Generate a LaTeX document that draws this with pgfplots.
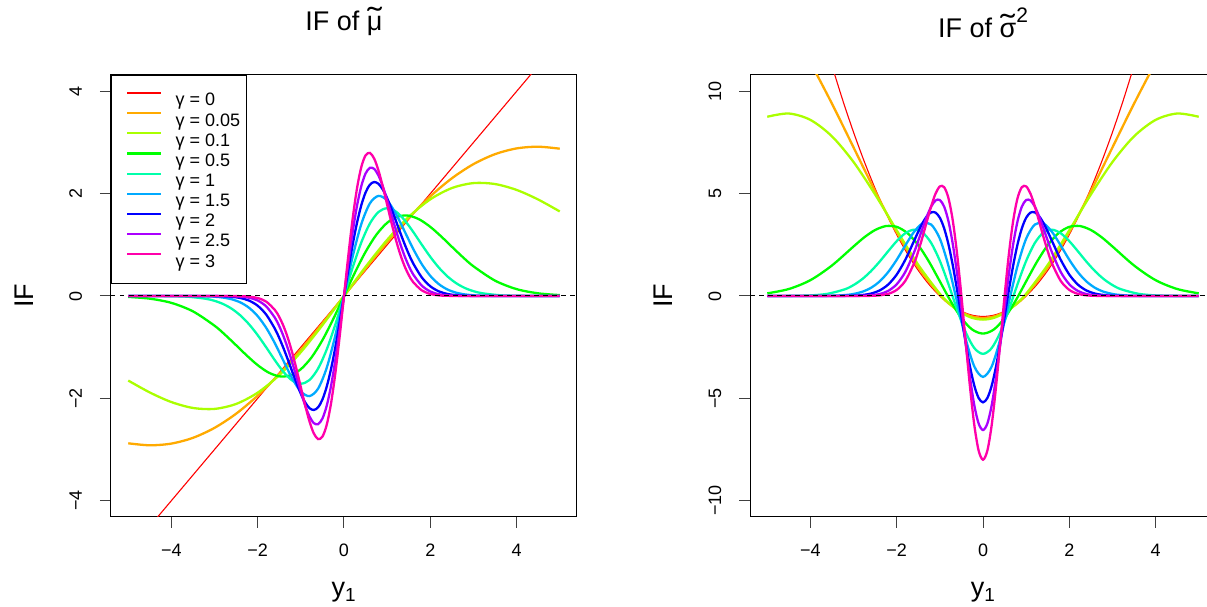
\documentclass[border=0pt]{standalone}
\usepackage{fontspec}
\setmainfont{Liberation Sans}
\usepackage{graphicx}
\usepackage{pgfplots}
\pgfplotsset{compat=1.18}
\definecolor{g0}{HTML}{FF0000}
\definecolor{g1}{HTML}{FFAA00}
\definecolor{g2}{HTML}{AAFF00}
\definecolor{g3}{HTML}{00FF00}
\definecolor{g4}{HTML}{00FFAA}
\definecolor{g5}{HTML}{00AAFF}
\definecolor{g6}{HTML}{0000FF}
\definecolor{g7}{HTML}{AA00FF}
\definecolor{g8}{HTML}{FF00AA}
\newcommand{\fs}[1]{\fontsize{#1}{#1}\selectfont}
\newcommand{\tld}[1]{\ooalign{#1\cr\hidewidth\raisebox{0.04em}{\scalebox{1.6}[1.15]{˜}}\hidewidth\cr}}
\pgfplotsset{
  ifaxis/.style={
    scale only axis, width=466pt, height=442pt,
    xmin=-5.4, xmax=5.4,
    axis line style={line width=1pt, black},
    tick style={line width=1pt, black!75},
    major tick length=11pt, tick align=outside,
    xtick pos=left, ytick pos=left,
    xtick={-4,-2,0,2,4}, xticklabels={−4,−2,0,2,4},
    tick label style={font=\fs{18}},
    xticklabel style={anchor=base}, xticklabel shift=28.5pt,
    yticklabel style={rotate=90, anchor=base}, yticklabel shift=18pt,
    xlabel={y\textsubscript{1}},
    xlabel style={at={(axis description cs:0.5,0)}, anchor=base, yshift=-80pt, font=\fs{27}},
    ylabel={IF},
    ylabel style={at={(axis description cs:-0.167,0.5)}, anchor=base, font=\fs{27}},
    title style={at={(axis description cs:0.5,1)}, anchor=base, font=\fs{27}},
  },
  cv/.style={forget plot, smooth, line width=2.3pt, no markers},
}
\begin{document}
\begin{tikzpicture}[x=1pt,y=1pt]
\useasboundingbox (0,0) rectangle (1207,607);
% ---------------- left panel: IF of mu ----------------
\begin{axis}[ifaxis, at={(111pt,90pt)}, anchor=south west,
  ymin=-4.32, ymax=4.32,
  ytick={-4,-2,0,2,4}, yticklabels={−4,−2,0,2,4},
  title={IF of \tld{μ}}, title style={yshift=38pt},
  legend style={at={(0,1)}, anchor=north west, draw=black, line width=0.9pt, fill=white,
    font=\fs{18}, inner xsep=6.5pt, inner ysep=16.5pt, row sep=6.2pt, column sep=14pt,
    nodes={inner sep=0pt, text height=12.9pt, text depth=0pt}},
  legend cell align=left,
  legend image code/.code={\path (0pt,6.45pt); \draw[#1] (8.5pt,6.45pt) -- (41.5pt,6.45pt);},
]
\addlegendimage{g0, line width=2.1pt}\addlegendentry{γ = 0}
\addlegendimage{g1, line width=2.1pt}\addlegendentry{γ = 0.05}
\addlegendimage{g2, line width=2.1pt}\addlegendentry{γ = 0.1}
\addlegendimage{g3, line width=2.1pt}\addlegendentry{γ = 0.5}
\addlegendimage{g4, line width=2.1pt}\addlegendentry{γ = 1}
\addlegendimage{g5, line width=2.1pt}\addlegendentry{γ = 1.5}
\addlegendimage{g6, line width=2.1pt}\addlegendentry{γ = 2}
\addlegendimage{g7, line width=2.1pt}\addlegendentry{γ = 2.5}
\addlegendimage{g8, line width=2.1pt}\addlegendentry{γ = 3}
\addplot[forget plot, g0, line width=1.1pt] coordinates {(-5,-5) (5,5)};
\addplot[cv, g1] coordinates {(-5,-2.8795) (-4.5,-2.9183) (-4,-2.8849) (-3.5,-2.7724) (-3,-2.5774) (-2.5,-2.3007) (-2,-1.9471) (-1.5,-1.5256) (-1,-1.0494) (-0.5,-0.5346) (0,0) (0.5,0.5346) (1,1.0494) (1.5,1.5256) (2,1.9471) (2.5,2.3007) (3,2.5774) (3.5,2.7724) (4,2.8849) (4.5,2.9183) (5,2.8795)};
\addplot[cv, g2] coordinates {(-5,-1.6527) (-4.5,-1.8862) (-4,-2.0736) (-3.5,-2.1885) (-3,-2.2069) (-2.5,-2.1101) (-2,-1.8891) (-1.5,-1.5464) (-1,-1.0974) (-0.5,-0.5697) (0,0) (0.5,0.5697) (1,1.0974) (1.5,1.5464) (2,1.8891) (2.5,2.1101) (3,2.2069) (3.5,2.1885) (4,2.0736) (4.5,1.8862) (5,1.6527)};
\addplot[cv, g3] coordinates {(-5,-0.0177) (-4.5,-0.0523) (-4,-0.1346) (-3.5,-0.3007) (-3,-0.5809) (-2.75,-0.7627) (-2.5,-0.9627) (-2.25,-1.1659) (-2,-1.3517) (-1.75,-1.4951) (-1.5,-1.5701) (-1.25,-1.5538) (-1,-1.4307) (-0.75,-1.1971) (-0.5,-0.8629) (-0.25,-0.4522) (0,0) (0.25,0.4522) (0.5,0.8629) (0.75,1.1971) (1,1.4307) (1.25,1.5538) (1.5,1.5701) (1.75,1.4951) (2,1.3517) (2.25,1.1659) (2.5,0.9627) (2.75,0.7627) (3,0.5809) (3.5,0.3007) (4,0.1346) (4.5,0.0523) (5,0.0177)};
\addplot[cv, g4] coordinates {(-5,-0.0001) (-4.5,-0.0005) (-4,-0.0038) (-3.6,-0.0156) (-3.2,-0.0541) (-3,-0.0943) (-2.8,-0.1571) (-2.6,-0.2504) (-2.4,-0.3811) (-2.2,-0.5533) (-2,-0.7656) (-1.8,-1.0075) (-1.6,-1.2583) (-1.4,-1.4862) (-1.2,-1.6521) (-1,-1.7155) (-0.8,-1.6431) (-0.6,-1.4175) (-0.4,-1.0444) (-0.2,-0.5545) (0,0) (0.2,0.5545) (0.4,1.0444) (0.6,1.4175) (0.8,1.6431) (1,1.7155) (1.2,1.6521) (1.4,1.4862) (1.6,1.2583) (1.8,1.0075) (2,0.7656) (2.2,0.5533) (2.4,0.3811) (2.6,0.2504) (2.8,0.1571) (3,0.0943) (3.2,0.0541) (3.6,0.0156) (4,0.0038) (4.5,0.0005) (5,0.0001)};
\addplot[cv, g5] coordinates {(-5,0) (-4,-0.0001) (-3.6,-0.0009) (-3.2,-0.0058) (-3,-0.0139) (-2.8,-0.0309) (-2.6,-0.0646) (-2.4,-0.1262) (-2.2,-0.2306) (-2,-0.3936) (-1.8,-0.6264) (-1.6,-0.9272) (-1.4,-1.2724) (-1.2,-1.6108) (-1,-1.8672) (-0.8,-1.9568) (-0.6,-1.8105) (-0.4,-1.4023) (-0.2,-0.7672) (0,0) (0.2,0.7672) (0.4,1.4023) (0.6,1.8105) (0.8,1.9568) (1,1.8672) (1.2,1.6108) (1.4,1.2724) (1.6,0.9272) (1.8,0.6264) (2,0.3936) (2.2,0.2306) (2.4,0.1262) (2.6,0.0646) (2.8,0.0309) (3,0.0139) (3.2,0.0058) (3.6,0.0009) (4,0.0001) (5,0)};
\addplot[cv, g6] coordinates {(-5,0) (-3.5,-0.0001) (-3,-0.0019) (-2.8,-0.0057) (-2.6,-0.0157) (-2.4,-0.0393) (-2.2,-0.0904) (-2,-0.1903) (-1.8,-0.3663) (-1.6,-0.6427) (-1.5,-0.8215) (-1.4,-1.0247) (-1.3,-1.2464) (-1.2,-1.4773) (-1.1,-1.7044) (-1,-1.9116) (-0.9,-2.0804) (-0.8,-2.1919) (-0.7,-2.2283) (-0.6,-2.1751) (-0.5,-2.0234) (-0.4,-1.7711) (-0.3,-1.4247) (-0.2,-0.9985) (-0.1,-0.5144) (0,0) (0.1,0.5144) (0.2,0.9985) (0.3,1.4247) (0.4,1.7711) (0.5,2.0234) (0.6,2.1751) (0.7,2.2283) (0.8,2.1919) (0.9,2.0804) (1,1.9116) (1.1,1.7044) (1.2,1.4773) (1.3,1.2464) (1.4,1.0247) (1.5,0.8215) (1.6,0.6427) (1.8,0.3663) (2,0.1903) (2.2,0.0904) (2.4,0.0393) (2.6,0.0157) (2.8,0.0057) (3,0.0019) (3.5,0.0001) (5,0)};
\addplot[cv, g7] coordinates {(-5,0) (-3.2,-0.0001) (-2.8,-0.0010) (-2.6,-0.0036) (-2.4,-0.0117) (-2.2,-0.0340) (-2,-0.0882) (-1.8,-0.2053) (-1.6,-0.4271) (-1.5,-0.5899) (-1.4,-0.7911) (-1.3,-1.0294) (-1.2,-1.2988) (-1.1,-1.5872) (-1,-1.8760) (-0.9,-2.1410) (-0.8,-2.3537) (-0.7,-2.4843) (-0.6,-2.5051) (-0.5,-2.3953) (-0.4,-2.1444) (-0.3,-1.7554) (-0.2,-1.2457) (-0.1,-0.6467) (0,0) (0.1,0.6467) (0.2,1.2457) (0.3,1.7554) (0.4,2.1444) (0.5,2.3953) (0.6,2.5051) (0.7,2.4843) (0.8,2.3537) (0.9,2.1410) (1,1.8760) (1.1,1.5872) (1.2,1.2988) (1.3,1.0294) (1.4,0.7911) (1.5,0.5899) (1.6,0.4271) (1.8,0.2053) (2,0.0882) (2.2,0.0340) (2.4,0.0117) (2.6,0.0036) (2.8,0.0010) (3.2,0.0001) (5,0)};
\addplot[cv, g8] coordinates {(-5,0) (-3,0) (-2.4,-0.0034) (-2.2,-0.0124) (-2,-0.0397) (-1.8,-0.1116) (-1.6,-0.2751) (-1.5,-0.4106) (-1.4,-0.5921) (-1.3,-0.8243) (-1.2,-1.1071) (-1.1,-1.4330) (-1,-1.7850) (-0.9,-2.1363) (-0.8,-2.4505) (-0.7,-2.6852) (-0.6,-2.7972) (-0.5,-2.7492) (-0.4,-2.5172) (-0.3,-2.0969) (-0.2,-1.5068) (-0.1,-0.7881) (0,0) (0.1,0.7881) (0.2,1.5068) (0.3,2.0969) (0.4,2.5172) (0.5,2.7492) (0.6,2.7972) (0.7,2.6852) (0.8,2.4505) (0.9,2.1363) (1,1.7850) (1.1,1.4330) (1.2,1.1071) (1.3,0.8243) (1.4,0.5921) (1.5,0.4106) (1.6,0.2751) (1.8,0.1116) (2,0.0397) (2.2,0.0124) (2.4,0.0034) (3,0) (5,0)};
\addplot[forget plot, black, line width=1pt, dash pattern=on 4.5pt off 4.5pt] coordinates {(-5.4,0) (5.4,0)};
\end{axis}
% ---------------- right panel: IF of sigma^2 ----------------
\begin{axis}[ifaxis, at={(750pt,90pt)}, anchor=south west,
  ymin=-10.8, ymax=10.8,
  ytick={-10,-5,0,5,10}, yticklabels={−10,−5,0,5,10},
  title={IF of \tld{σ}\raisebox{15pt}{\fs{21}2}}, title style={yshift=31.7pt},
]
\addplot[forget plot, smooth, g0, line width=1.1pt] coordinates {(-3.5,11.25) (-3.25,9.5625) (-3,8) (-2.75,6.5625) (-2.5,5.25) (-2.25,4.0625) (-2,3) (-1.75,2.0625) (-1.5,1.25) (-1.25,0.5625) (-1,0) (-0.75,-0.4375) (-0.5,-0.75) (-0.25,-0.9375) (0,-1) (0.25,-0.9375) (0.5,-0.75) (0.75,-0.4375) (1,0) (1.25,0.5625) (1.5,1.25) (1.75,2.0625) (2,3) (2.25,4.0625) (2.5,5.25) (2.75,6.5625) (3,8) (3.25,9.5625) (3.5,11.25)};
\addplot[cv, g1] coordinates {(-5,14.542) (-4.5,13.141) (-4,11.395) (-3.5,9.3963) (-3,7.2598) (-2.5,5.1191) (-2,3.1153) (-1.5,1.3858) (-1,0.0525) (-0.75,-0.4343) (-0.5,-0.7886) (-0.25,-1.0038) (0,-1.0759) (0.25,-1.0038) (0.5,-0.7886) (0.75,-0.4343) (1,0.0525) (1.5,1.3858) (2,3.1153) (2.5,5.1191) (3,7.2598) (3.5,9.3963) (4,11.395) (4.5,13.141) (5,14.542)};
\addplot[cv, g2] coordinates {(-5,8.7593) (-4.5,8.9176) (-4,8.6053) (-3.5,7.8005) (-3,6.5471) (-2.5,4.9588) (-2,3.2115) (-1.5,1.5206) (-1,0.1097) (-0.75,-0.4276) (-0.5,-0.8260) (-0.25,-1.0710) (0,-1.1537) (0.25,-1.0710) (0.5,-0.8260) (0.75,-0.4276) (1,0.1097) (1.5,1.5206) (2,3.2115) (2.5,4.9588) (3,6.5471) (3.5,7.8005) (4,8.6053) (4.5,8.9176) (5,8.7593)};
\addplot[cv, g3] coordinates {(-5,0.1295) (-4.5,0.3416) (-4,0.7739) (-3.5,1.4929) (-3,2.4204) (-2.75,2.8690) (-2.5,3.2250) (-2.25,3.4167) (-2,3.3792) (-1.75,3.0703) (-1.5,2.4861) (-1.25,1.6704) (-1,0.7154) (-0.75,-0.2494) (-0.5,-1.0786) (-0.25,-1.6391) (0,-1.8371) (0.25,-1.6391) (0.5,-1.0786) (0.75,-0.2494) (1,0.7154) (1.25,1.6704) (1.5,2.4861) (1.75,3.0703) (2,3.3792) (2.25,3.4167) (2.5,3.2250) (2.75,2.8690) (3,2.4204) (3.5,1.4929) (4,0.7739) (4.5,0.3416) (5,0.1295)};
\addplot[cv, g4] coordinates {(-5,0.0005) (-4.5,0.0045) (-4,0.0294) (-3.6,0.1081) (-3.2,0.3293) (-3,0.5342) (-2.8,0.8238) (-2.6,1.2057) (-2.4,1.6703) (-2.2,2.1831) (-2,2.6795) (-1.8,3.0674) (-1.6,3.2400) (-1.4,3.0997) (-1.2,2.5883) (-1,1.7155) (-0.8,0.5751) (-0.6,-0.6615) (-0.4,-1.7755) (-0.2,-2.5506) (0,-2.8284) (0.2,-2.5506) (0.4,-1.7755) (0.6,-0.6615) (0.8,0.5751) (1,1.7155) (1.2,2.5883) (1.4,3.0997) (1.6,3.2400) (1.8,3.0674) (2,2.6795) (2.2,2.1831) (2.4,1.6703) (2.6,1.2057) (2.8,0.8238) (3,0.5342) (3.2,0.3293) (3.6,0.1081) (4,0.0294) (4.5,0.0045) (5,0.0005)};
\addplot[cv, g5] coordinates {(-5,0) (-4,0.0009) (-3.6,0.0075) (-3.2,0.0449) (-3,0.0995) (-2.8,0.2055) (-2.6,0.3948) (-2.4,0.7045) (-2.2,1.1634) (-2,1.7712) (-1.8,2.4708) (-1.6,3.1294) (-1.4,3.5446) (-1.2,3.4902) (-1,2.8008) (-0.8,1.4676) (-0.6,-0.3018) (-0.4,-2.1035) (-0.2,-3.4524) (0,-3.9529) (0.2,-3.4524) (0.4,-2.1035) (0.6,-0.3018) (0.8,1.4676) (1,2.8008) (1.2,3.4902) (1.4,3.5446) (1.6,3.1294) (1.8,2.4708) (2,1.7712) (2.2,1.1634) (2.4,0.7045) (2.6,0.3948) (2.8,0.2055) (3,0.0995) (3.2,0.0449) (3.6,0.0075) (4,0.0009) (5,0)};
\addplot[cv, g6] coordinates {(-5,0) (-3.5,0.0009) (-3,0.0167) (-2.8,0.0461) (-2.6,0.1161) (-2.4,0.2666) (-2.2,0.5555) (-2,1.0469) (-1.8,1.7745) (-1.6,2.6833) (-1.5,3.1491) (-1.4,3.5718) (-1.3,3.9023) (-1.2,4.0873) (-1.1,4.0751) (-1,3.8231) (-0.9,3.3055) (-0.8,2.5207) (-0.7,1.4962) (-0.6,0.2900) (-0.5,-1.0117) (-0.4,-2.3025) (-0.3,-3.4667) (-0.2,-4.3933) (-0.1,-4.9901) (0,-5.1962) (0.1,-4.9901) (0.2,-4.3933) (0.3,-3.4667) (0.4,-2.3025) (0.5,-1.0117) (0.6,0.2900) (0.7,1.4962) (0.8,2.5207) (0.9,3.3055) (1,3.8231) (1.1,4.0751) (1.2,4.0873) (1.3,3.9023) (1.4,3.5718) (1.5,3.1491) (1.6,2.6833) (1.8,1.7745) (2,1.0469) (2.2,0.5555) (2.4,0.2666) (2.6,0.1161) (2.8,0.0461) (3,0.0167) (3.5,0.0009) (5,0)};
\addplot[cv, g7] coordinates {(-5,0) (-3.2,0.0005) (-2.8,0.0096) (-2.6,0.0317) (-2.4,0.0937) (-2.2,0.2461) (-2,0.5735) (-1.8,1.1796) (-1.6,2.1246) (-1.5,2.7035) (-1.4,3.3112) (-1.3,3.8920) (-1.2,4.3727) (-1.1,4.6677) (-1,4.6900) (-0.9,4.3653) (-0.8,3.6483) (-0.7,2.5375) (-0.6,1.0855) (-0.5,-0.5988) (-0.4,-2.3588) (-0.3,-4.0081) (-0.2,-5.3566) (-0.1,-6.2402) (0,-6.5479) (0.1,-6.2402) (0.2,-5.3566) (0.3,-4.0081) (0.4,-2.3588) (0.5,-0.5988) (0.6,1.0855) (0.7,2.5375) (0.8,3.6483) (0.9,4.3653) (1,4.6900) (1.1,4.6677) (1.2,4.3727) (1.3,3.8920) (1.4,3.3112) (1.5,2.7035) (1.6,2.1246) (1.8,1.1796) (2,0.5735) (2.2,0.2461) (2.4,0.0937) (2.6,0.0317) (2.8,0.0096) (3.2,0.0005) (5,0)};
\addplot[cv, g8] coordinates {(-5,0) (-3,0.0004) (-2.6,0.0082) (-2.4,0.0312) (-2.2,0.1033) (-2,0.2975) (-1.8,0.7416) (-1.6,1.5888) (-1.5,2.1899) (-1.4,2.8928) (-1.3,3.6524) (-1.2,4.3916) (-1.1,5.0024) (-1,5.3551) (-0.9,5.3170) (-0.8,4.7785) (-0.7,3.6826) (-0.6,2.0513) (-0.5,0) (-0.4,-2.2655) (-0.3,-4.4734) (-0.2,-6.3287) (-0.1,-7.5657) (0,-8) (0.1,-7.5657) (0.2,-6.3287) (0.3,-4.4734) (0.4,-2.2655) (0.5,0) (0.6,2.0513) (0.7,3.6826) (0.8,4.7785) (0.9,5.3170) (1,5.3551) (1.1,5.0024) (1.2,4.3916) (1.3,3.6524) (1.4,2.8928) (1.5,2.1899) (1.6,1.5888) (1.8,0.7416) (2,0.2975) (2.2,0.1033) (2.4,0.0312) (2.6,0.0082) (3,0.0004) (5,0)};
\addplot[forget plot, black, line width=1pt, dash pattern=on 4.5pt off 4.5pt] coordinates {(-5.4,0) (5.4,0)};
\end{axis}
\end{tikzpicture}
\end{document}
